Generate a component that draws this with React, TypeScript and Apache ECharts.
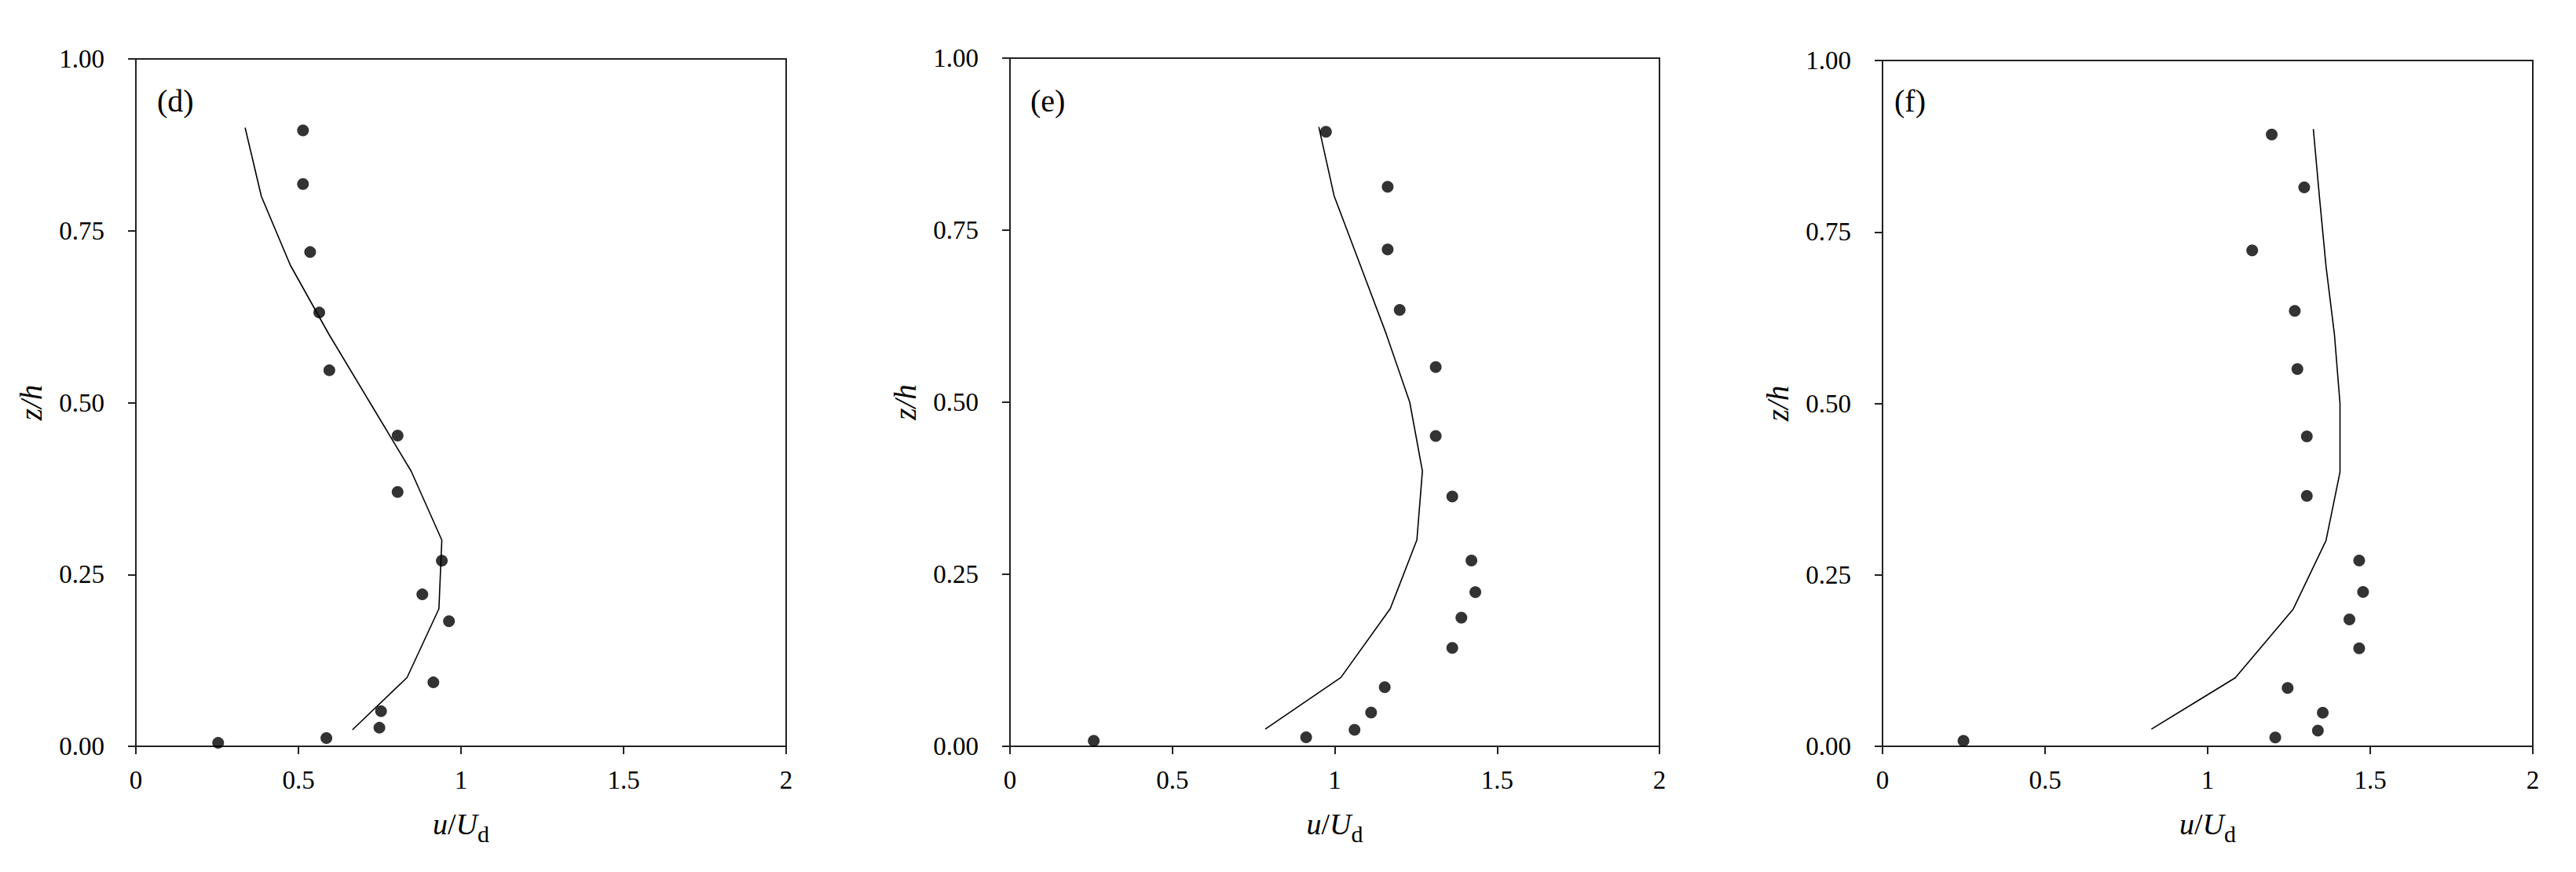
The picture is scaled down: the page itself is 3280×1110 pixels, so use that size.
import React, { useEffect, useRef } from "react";
import * as echarts from "echarts";

const panelLabels = ["(d)", "(e)", "(f)"];
const xTickMin = 0;
const xTickMax = 2;
const xTickStep = 0.5;
const yTickMin = 0;
const yTickMax = 1;
const yTickStep = 0.25;

// Panel (d)
const measD_u = [0.514, 0.514, 0.536, 0.564, 0.595, 0.805, 0.805, 0.941, 0.881, 0.963, 0.915, 0.754, 0.749, 0.586, 0.253];
const measD_z = [0.896, 0.818, 0.719, 0.631, 0.547, 0.452, 0.370, 0.270, 0.221, 0.182, 0.093, 0.051, 0.027, 0.012, 0.005];
const modelD_u = [0.336, 0.386, 0.475, 0.593, 0.72, 0.847, 0.941, 0.932, 0.834, 0.666];
const modelD_z = [0.9, 0.8, 0.7, 0.6, 0.5, 0.4, 0.3, 0.2, 0.1, 0.024];

// Panel (e)
const measE_u = [0.973, 1.163, 1.163, 1.2, 1.311, 1.311, 1.362, 1.421, 1.433, 1.39, 1.362, 1.154, 1.112, 1.061, 0.912, 0.258];
const measE_z = [0.893, 0.813, 0.722, 0.634, 0.551, 0.451, 0.363, 0.27, 0.224, 0.187, 0.143, 0.086, 0.049, 0.024, 0.013, 0.008];
const modelE_u = [0.951, 0.998, 1.078, 1.158, 1.231, 1.27, 1.253, 1.171, 1.019, 0.786];
const modelE_z = [0.9, 0.8, 0.7, 0.6, 0.5, 0.4, 0.3, 0.2, 0.1, 0.025];

// Panel (f)
const measF_u = [1.197, 1.297, 1.137, 1.268, 1.276, 1.305, 1.305, 1.466, 1.478, 1.436, 1.466, 1.246, 1.354, 1.339, 1.208, 0.249];
const measF_z = [0.892, 0.815, 0.723, 0.635, 0.55, 0.452, 0.365, 0.271, 0.225, 0.185, 0.143, 0.085, 0.049, 0.023, 0.013, 0.008];
const modelF_u = [1.325, 1.344, 1.364, 1.39, 1.407, 1.407, 1.364, 1.263, 1.085, 0.827];
const modelF_z = [0.9, 0.8, 0.7, 0.6, 0.5, 0.4, 0.3, 0.2, 0.1, 0.025];

const measured = [
  [measD_u, measD_z],
  [measE_u, measE_z],
  [measF_u, measF_z],
];
const model = [
  [modelD_u, modelD_z],
  [modelE_u, modelE_z],
  [modelF_u, modelF_z],
];

const FONT = "Liberation Serif";
const grids = [
  { left: 173, top: 75, width: 828, height: 875, labelDx: 27 },
  { left: 1286, top: 74, width: 827, height: 876, labelDx: 26 },
  { left: 2397, top: 77, width: 828, height: 873, labelDx: 15 },
];

const zip = (a: number[], b: number[]) => a.map((v, i) => [v, b[i]]);

export default function App() {
  const ref = useRef<HTMLDivElement>(null);
  useEffect(() => {
    if (!ref.current) return;
    const chart = echarts.init(ref.current, undefined, { renderer: "svg" });
    const axisLineStyle = { color: "#222", width: 2 };
    const option: any = {
      animation: false,
      backgroundColor: "#fff",
      grid: grids.map((g) => ({
        left: g.left,
        top: g.top,
        width: g.width,
        height: g.height,
        show: true,
        borderColor: "#222",
        borderWidth: 2,
        backgroundColor: "transparent",
        containLabel: false,
      })),
      xAxis: grids.map((_, i) => ({
        type: "value",
        gridIndex: i,
        min: xTickMin,
        max: xTickMax,
        interval: xTickStep,
        name: "{i|u}{n|/}{i|U}{s|d}",
        nameLocation: "middle",
        nameGap: 80,
        nameTextStyle: {
          fontFamily: FONT,
          fontSize: 38,
          color: "#000",
          rich: {
            i: { fontFamily: FONT, fontSize: 38, fontStyle: "italic", color: "#000", verticalAlign: "bottom", padding: [0, 0, 8, 0] },
            n: { fontFamily: FONT, fontSize: 38, color: "#000", verticalAlign: "bottom", padding: [0, 0, 8, 0] },
            s: { fontFamily: FONT, fontSize: 30, color: "#000", verticalAlign: "bottom" },
          },
        },
        axisLine: { show: true, onZero: false, lineStyle: axisLineStyle },
        axisTick: { show: true, inside: false, length: 10, lineStyle: axisLineStyle },
        axisLabel: { fontFamily: FONT, fontSize: 33, color: "#000", margin: 26 },
        splitLine: { show: false },
      })),
      yAxis: grids.map((_, i) => ({
        type: "value",
        gridIndex: i,
        min: yTickMin,
        max: yTickMax,
        interval: yTickStep,
        name: "z/h",
        nameLocation: "middle",
        nameGap: 114,
        nameTextStyle: { fontFamily: FONT, fontSize: 39, fontStyle: "italic", color: "#000" },
        axisLine: { show: true, onZero: false, lineStyle: axisLineStyle },
        axisTick: { show: true, inside: false, length: 10, lineStyle: axisLineStyle },
        axisLabel: {
          fontFamily: FONT,
          fontSize: 33,
          color: "#000",
          margin: 40,
          formatter: (v: number) => v.toFixed(2),
        },
        splitLine: { show: false },
      })),
      series: [
        ...model.map((m, i) => ({
          type: "line",
          xAxisIndex: i,
          yAxisIndex: i,
          data: zip(m[0], m[1]),
          showSymbol: false,
          symbol: "none",
          lineStyle: { color: "#000", width: 1.6 },
          z: 2,
        })),
        ...measured.map((m, i) => ({
          type: "scatter",
          xAxisIndex: i,
          yAxisIndex: i,
          data: zip(m[0], m[1]),
          symbol: "circle",
          symbolSize: 15,
          itemStyle: { color: "#000" },
          z: 3,
        })),
      ],
      graphic: grids.map((g, i) => ({
        type: "text",
        left: g.left + g.labelDx,
        top: 108,
        style: {
          text: panelLabels[i],
          fontFamily: FONT,
          fontSize: 40,
          fill: "#000",
        },
      })),
    };
    chart.setOption(option);
    return () => chart.dispose();
  }, []);
  return (
    <div
      ref={ref}
      style={{ position: "absolute", left: 0, top: 0, width: 3280, height: 1110, background: "#fff" }}
    />
  );
}
